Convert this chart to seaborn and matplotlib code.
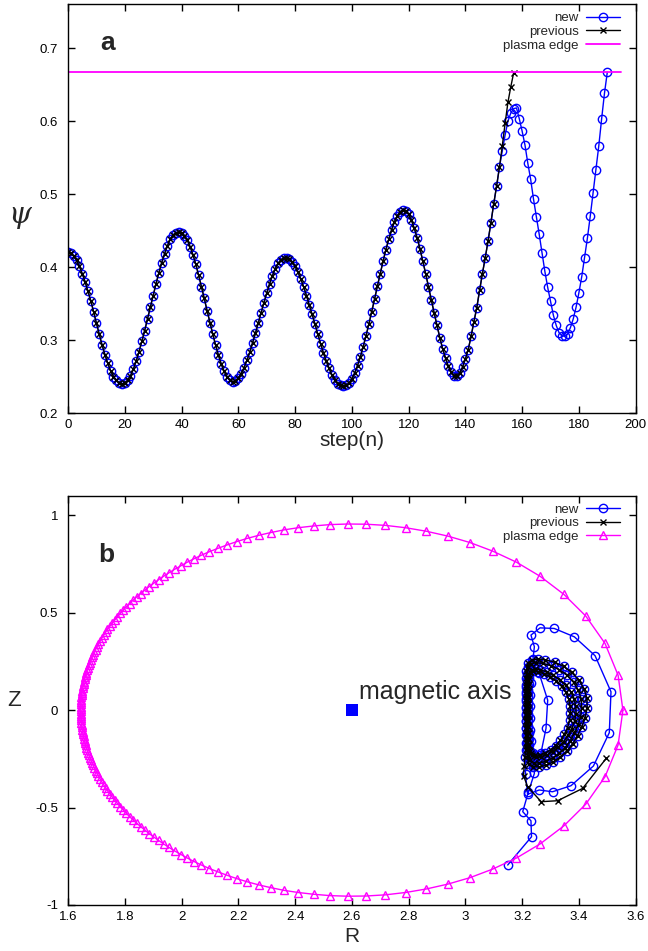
import matplotlib
matplotlib.use('Agg')
import matplotlib.pyplot as plt
from matplotlib.ticker import FormatStrFormatter, MultipleLocator
import seaborn as sns

# ---- panel a: psi along the orbit, one value per step ----
psi_new = [
    0.420, 0.419, 0.415, 0.409, 0.401, 0.391, 0.380, 0.367, 0.354, 0.339,
    0.323, 0.308, 0.293, 0.280, 0.268, 0.258, 0.250, 0.245, 0.241, 0.240,
    0.241, 0.245, 0.251, 0.260, 0.271, 0.284, 0.298, 0.313, 0.329, 0.345,
    0.361, 0.377, 0.392, 0.406, 0.418, 0.429, 0.438, 0.444, 0.447, 0.448,
    0.447, 0.443, 0.437, 0.428, 0.417, 0.404, 0.389, 0.373, 0.357, 0.340,
    0.324, 0.308, 0.293, 0.279, 0.267, 0.257, 0.250, 0.245, 0.243,
    0.244, 0.248, 0.254, 0.262, 0.272, 0.283, 0.296, 0.309, 0.323, 0.337,
    0.351, 0.364, 0.377, 0.388, 0.398, 0.405, 0.410, 0.413, 0.413,
    0.411, 0.407, 0.401, 0.393, 0.384, 0.373, 0.361, 0.348, 0.335, 0.322,
    0.308, 0.295, 0.282, 0.271, 0.261, 0.252, 0.245, 0.240, 0.238, 0.237,
    0.238, 0.241, 0.247, 0.255, 0.265, 0.277, 0.291, 0.306, 0.322, 0.339,
    0.356, 0.374, 0.391, 0.408, 0.424, 0.438, 0.451, 0.462, 0.470, 0.476, 0.478,
    0.477, 0.472, 0.464, 0.453, 0.440, 0.425, 0.408, 0.391, 0.373, 0.355,
    0.337, 0.320, 0.303, 0.288, 0.275, 0.264, 0.256, 0.251,
    0.251, 0.255, 0.263, 0.274, 0.287, 0.305, 0.325, 0.344, 0.368, 0.391,
    0.413, 0.436, 0.461, 0.487, 0.511, 0.537, 0.559, 0.581, 0.600, 0.611,
    0.617, 0.618,
    0.603, 0.586, 0.567, 0.542, 0.520, 0.493, 0.469, 0.445, 0.419, 0.394,
    0.372, 0.353, 0.334, 0.320, 0.310, 0.306, 0.305, 0.308, 0.317, 0.329,
    0.345, 0.365, 0.387, 0.413, 0.440, 0.470, 0.502, 0.533, 0.566, 0.603,
    0.638, 0.667,
]
psi_prev = psi_new[:153] + [0.566, 0.597, 0.626, 0.647, 0.666]
steps_new = list(range(len(psi_new)))
steps_prev = list(range(len(psi_prev)))
edge_steps = [0, 195]
edge_psi = [0.667, 0.667]

# ---- panel b: orbit in the poloidal plane ----
head_R = [3.260, 3.290, 3.284, 3.266]
head_Z = [0.188, 0.051, -0.094, -0.222]

orbit_R = [
    # loop A
    3.234, 3.248, 3.266, 3.286, 3.307, 3.327, 3.346, 3.362,
    3.375, 3.385, 3.390, 3.389, 3.383,
    3.371, 3.354, 3.333, 3.310, 3.287, 3.264, 3.246, 3.233,
    3.227, 3.224, 3.223, 3.222, 3.222, 3.222, 3.222, 3.222, 3.222, 3.222, 3.223, 3.223, 3.224, 3.226,
    # loop B
    3.231, 3.245, 3.262, 3.281, 3.300, 3.318, 3.335, 3.349,
    3.360, 3.367, 3.370, 3.369, 3.364,
    3.354, 3.339, 3.320, 3.299, 3.277, 3.256, 3.239, 3.228,
    3.224, 3.221, 3.220, 3.219, 3.219, 3.219, 3.219, 3.219, 3.219, 3.219, 3.220, 3.220, 3.221, 3.223,
    # loop C
    3.226, 3.240, 3.260, 3.283, 3.307, 3.330, 3.351, 3.369,
    3.384, 3.397, 3.406, 3.410, 3.408,
    3.398, 3.381, 3.358, 3.331, 3.301, 3.272, 3.248, 3.230,
    3.219, 3.217, 3.216, 3.215, 3.215, 3.215, 3.215, 3.215, 3.215, 3.215, 3.216, 3.216, 3.217, 3.219,
    # loop D
    3.223, 3.238, 3.259, 3.284, 3.310, 3.335, 3.358, 3.378,
    3.395, 3.410, 3.422, 3.429, 3.428,
    3.418, 3.400, 3.375, 3.346, 3.314, 3.282, 3.255, 3.234,
    3.220, 3.215, 3.213, 3.212, 3.212, 3.212, 3.212, 3.212, 3.212, 3.212, 3.212, 3.212, 3.212, 3.210,
]
orbit_Z = [
    -0.232, -0.241, -0.241, -0.231, -0.213, -0.190, -0.162, -0.130,
    -0.095, -0.057, -0.018, 0.021, 0.059,
    0.095, 0.128, 0.156, 0.179, 0.196, 0.206, 0.210, 0.206,
    0.195, 0.164, 0.133, 0.102, 0.071, 0.040, 0.009, -0.022, -0.053, -0.084, -0.115, -0.146, -0.177, -0.208,
    -0.222, -0.231, -0.231, -0.221, -0.204, -0.182, -0.155, -0.124,
    -0.090, -0.053, -0.016, 0.021, 0.057,
    0.091, 0.122, 0.149, 0.170, 0.186, 0.196, 0.200, 0.196,
    0.182, 0.152, 0.122, 0.092, 0.062, 0.032, 0.002, -0.028, -0.058, -0.088, -0.118, -0.148, -0.178, -0.204,
    -0.256, -0.270, -0.272, -0.263, -0.246, -0.222, -0.193, -0.159,
    -0.120, -0.078, -0.034, 0.012, 0.058,
    0.102, 0.143, 0.179, 0.208, 0.228, 0.240, 0.243, 0.238,
    0.222, 0.187, 0.152, 0.117, 0.082, 0.047, 0.012, -0.023, -0.058, -0.093, -0.128, -0.163, -0.198, -0.233,
    -0.276, -0.290, -0.292, -0.283, -0.265, -0.240, -0.209, -0.173,
    -0.131, -0.086, -0.038, 0.012, 0.062,
    0.110, 0.154, 0.193, 0.224, 0.246, 0.258, 0.262, 0.256,
    0.240, 0.203, 0.166, 0.129, 0.092, 0.055, 0.018, -0.019, -0.056, -0.093, -0.130, -0.167, -0.204, -0.241,
]

new_tail_R = [3.212, 3.219, 3.260, 3.307, 3.372, 3.451, 3.507, 3.513, 3.457, 3.384,
              3.313, 3.263, 3.231, 3.243, 3.238, 3.234, 3.231, 3.229, 3.228, 3.228,
              3.229, 3.232, 3.237, 3.243, 3.243, 3.222, 3.202, 3.231, 3.233, 3.149]
new_tail_Z = [-0.330, -0.432, -0.410, -0.419, -0.388, -0.287, -0.116, 0.094, 0.279, 0.376,
              0.419, 0.422, 0.385, 0.325, 0.260, 0.200, 0.140, 0.080, 0.020, -0.040,
              -0.100, -0.160, -0.220, -0.280, -0.325, -0.420, -0.521, -0.568, -0.650, -0.795]
prev_tail_R = [3.207, 3.205, 3.219, 3.267, 3.325, 3.413, 3.496]
prev_tail_Z = [-0.285, -0.337, -0.393, -0.470, -0.465, -0.402, -0.248]

new_R = head_R + orbit_R + new_tail_R
new_Z = head_Z + orbit_Z + new_tail_Z
prev_R = orbit_R + prev_tail_R
prev_Z = orbit_Z + prev_tail_Z

edge_R = [
    3.555, 3.538, 3.492, 3.424, 3.347, 3.263, 3.180, 3.096, 3.016, 2.938,
    2.862, 2.789, 2.718, 2.650, 2.585, 2.523, 2.465, 2.411, 2.361, 2.314,
    2.272, 2.231, 2.195, 2.161, 2.128, 2.098, 2.070, 2.044, 2.020, 1.998,
    1.976, 1.956, 1.937, 1.919, 1.902, 1.886, 1.871, 1.856, 1.842, 1.829,
    1.817, 1.805, 1.795, 1.784, 1.774, 1.765, 1.756, 1.748, 1.739, 1.732,
    1.726, 1.719, 1.713, 1.707, 1.702, 1.697, 1.692, 1.688, 1.684, 1.680,
    1.677, 1.673, 1.670, 1.667, 1.664, 1.662, 1.660, 1.658, 1.656, 1.655,
    1.653, 1.652, 1.650, 1.649, 1.648, 1.647, 1.647, 1.646, 1.645, 1.645, 1.645,
    1.645, 1.645, 1.645, 1.646, 1.647, 1.647, 1.648, 1.649, 1.650, 1.652, 1.653,
    1.655, 1.656, 1.658, 1.660, 1.662, 1.664, 1.667, 1.670, 1.673, 1.677,
    1.680, 1.684, 1.688, 1.692, 1.697, 1.702, 1.707, 1.713, 1.719, 1.726,
    1.732, 1.739, 1.748, 1.756, 1.765, 1.774, 1.784, 1.795, 1.805, 1.817,
    1.829, 1.842, 1.856, 1.871, 1.886, 1.902, 1.919, 1.937, 1.956, 1.976,
    1.998, 2.020, 2.044, 2.070, 2.098, 2.128, 2.161, 2.195, 2.231, 2.272,
    2.314, 2.361, 2.411, 2.465, 2.523, 2.585, 2.650, 2.718, 2.789, 2.862,
    2.938, 3.016, 3.096, 3.180, 3.263, 3.347, 3.424, 3.492, 3.538, 3.555,
]
edge_Z = [
    0.000, 0.179, 0.342, 0.483, 0.594, 0.687, 0.759, 0.816, 0.860, 0.893,
    0.918, 0.936, 0.948, 0.954, 0.955, 0.952, 0.945, 0.936, 0.925, 0.911,
    0.897, 0.881, 0.865, 0.848, 0.830, 0.813, 0.795, 0.777, 0.759, 0.741,
    0.723, 0.705, 0.687, 0.669, 0.651, 0.634, 0.616, 0.598, 0.581, 0.564,
    0.546, 0.530, 0.513, 0.496, 0.479, 0.463, 0.447, 0.431, 0.414, 0.399,
    0.384, 0.369, 0.353, 0.339, 0.325, 0.311, 0.297, 0.282, 0.270, 0.257,
    0.244, 0.231, 0.218, 0.205, 0.192, 0.181, 0.169, 0.158, 0.146, 0.135,
    0.123, 0.111, 0.100, 0.088, 0.077, 0.065, 0.053, 0.042, 0.030, 0.018, 0.007,
    -0.007, -0.018, -0.030, -0.042, -0.053, -0.065, -0.077, -0.088, -0.100, -0.111, -0.123,
    -0.135, -0.146, -0.158, -0.169, -0.181, -0.192, -0.205, -0.218, -0.231, -0.244,
    -0.257, -0.270, -0.282, -0.297, -0.311, -0.325, -0.339, -0.353, -0.369, -0.384,
    -0.399, -0.414, -0.431, -0.447, -0.463, -0.479, -0.496, -0.513, -0.530, -0.546,
    -0.564, -0.581, -0.598, -0.616, -0.634, -0.651, -0.669, -0.687, -0.705, -0.723,
    -0.741, -0.759, -0.777, -0.795, -0.813, -0.830, -0.848, -0.865, -0.881, -0.897,
    -0.911, -0.925, -0.936, -0.945, -0.952, -0.955, -0.954, -0.948, -0.936, -0.918,
    -0.893, -0.860, -0.816, -0.759, -0.687, -0.594, -0.483, -0.342, -0.179, 0.000,
]
axis_R = [2.6]
axis_Z = [0.0]

BLUE = '#0000ff'
MAGENTA = '#ff00ff'

sns.set_theme(style='ticks')
plt.rcParams['font.family'] = ['Liberation Sans', 'DejaVu Sans']
plt.rcParams['axes.unicode_minus'] = False

fig = plt.figure(figsize=(6.48, 9.51), dpi=100)
ax_a = fig.add_axes([0.105, 0.5657, 0.876, 0.4298])
ax_b = fig.add_axes([0.105, 0.0484, 0.876, 0.4303])

line_kw = dict(sort=False, estimator=None, lw=1.0, ms=6, mew=1.0)

# panel a
sns.lineplot(x=steps_new, y=psi_new, color=BLUE, marker='o', mfc='none', mec=BLUE,
             label='new', ax=ax_a, **line_kw)
sns.lineplot(x=steps_prev, y=psi_prev, color='black', marker='x', mec='black',
             label='previous', ax=ax_a, **{**line_kw, 'ms': 5})
sns.lineplot(x=edge_steps, y=edge_psi, color=MAGENTA, label='plasma edge', ax=ax_a,
             sort=False, estimator=None, lw=1.3)
ax_a.set_xlim(0, 200)
ax_a.set_ylim(0.2, 0.76)
ax_a.xaxis.set_major_locator(MultipleLocator(20))
ax_a.yaxis.set_major_locator(MultipleLocator(0.1))
ax_a.yaxis.set_major_formatter(FormatStrFormatter('%g'))
ax_a.set_xlabel('step(n)', fontsize=15, va='center')
ax_a.xaxis.set_label_coords(0.5, -0.068)
ax_a.set_ylabel('ψ', fontsize=21, rotation=0, family='DejaVu Serif', style='italic',
                va='center', ha='center')
ax_a.yaxis.set_label_coords(-0.085, 0.484)
ax_a.text(0.069, 0.905, 'a', transform=ax_a.transAxes, fontsize=19, fontweight='bold',
          ha='center', va='center')

# panel b
sns.lineplot(x=new_R, y=new_Z, color=BLUE, marker='o', mfc='none', mec=BLUE,
             label='new', ax=ax_b, **line_kw)
sns.lineplot(x=prev_R, y=prev_Z, color='black', marker='x', mec='black',
             label='previous', ax=ax_b, **{**line_kw, 'ms': 5})
sns.lineplot(x=edge_R, y=edge_Z, color=MAGENTA, marker='^', mfc='none', mec=MAGENTA,
             label='plasma edge', ax=ax_b, **line_kw)
sns.scatterplot(x=axis_R, y=axis_Z, marker='s', s=75, color=BLUE, edgecolor='none',
                ax=ax_b, legend=False, zorder=5)
ax_b.text(2.625, 0.056, 'magnetic axis', fontsize=18, ha='left', va='baseline')
ax_b.set_xlim(1.6, 3.6)
ax_b.set_ylim(-1, 1.1)
ax_b.xaxis.set_major_locator(MultipleLocator(0.2))
ax_b.yaxis.set_major_locator(MultipleLocator(0.5))
ax_b.xaxis.set_major_formatter(FormatStrFormatter('%g'))
ax_b.yaxis.set_major_formatter(FormatStrFormatter('%g'))
ax_b.set_xlabel('R', fontsize=15, va='center')
ax_b.xaxis.set_label_coords(0.5, -0.078)
ax_b.set_ylabel('Z', fontsize=16, rotation=0, va='center', ha='center')
ax_b.yaxis.set_label_coords(-0.095, 0.50)
ax_b.text(0.067, 0.855, 'b', transform=ax_b.transAxes, fontsize=19, fontweight='bold',
          ha='center', va='center')

for ax in (ax_a, ax_b):
    ax.tick_params(direction='in', top=True, right=True, length=5, width=1.0,
                   labelsize=9.5, colors='black')
    ax.tick_params(axis='x', pad=4.5)
    ax.tick_params(axis='y', pad=7)
    for sp in ax.spines.values():
        sp.set_visible(True)
        sp.set_linewidth(1.0)
        sp.set_color('black')
    ax.legend(loc='upper right', bbox_to_anchor=(0.986, 1.0), frameon=False,
              markerfirst=False, fontsize=9.5, handlelength=2.6, handletextpad=0.5,
              labelspacing=0.1, borderaxespad=0.3, borderpad=0.3)

fig.savefig('out.png', dpi=100)
